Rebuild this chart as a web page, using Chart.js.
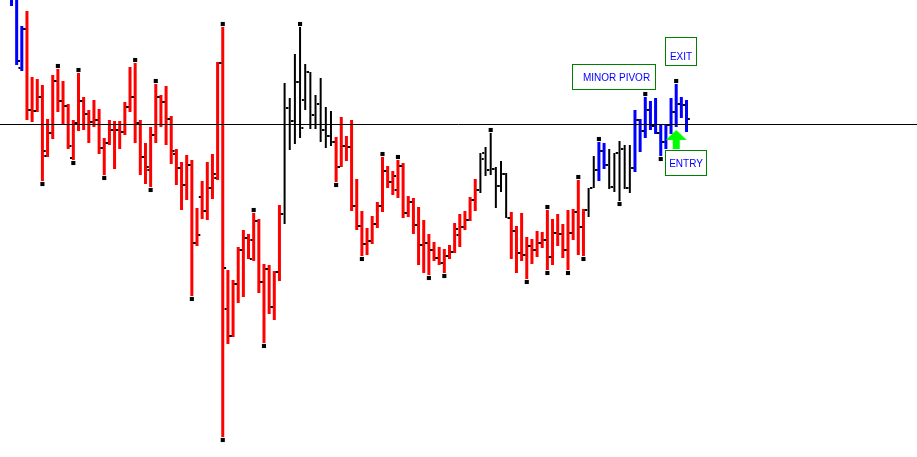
<!DOCTYPE html>
<html>
<head>
<meta charset="utf-8">
<title>Pivot bars</title>
<script src="https://cdn.jsdelivr.net/npm/chart.js@4.4.1/dist/chart.umd.min.js"></script>
<style>
    html, body { margin: 0; padding: 0; background: #fff; }
    canvas { display: block; }
</style>
</head>
<body>
<canvas id="grafico" width="917" height="457"></canvas>
<script>
// price in points, one entry per bar, oldest bar first
const openPrice = [
    477, 462, 389, 428, 347, 346, 360, 301, 324, 376,
    356, 351, 299, 334, 356, 343, 335, 337, 309, 314,
    327, 327, 325, 350, 360, 334, 300, 287, 322, 360,
    355, 338, 303, 289, 272, 292, 214, 260, 246, 269,
    279, 394, 148, 121, 173, 207, 219, 217, 236, 175,
    188, 150, 185, 243, 349, 336, 375, 357, 385, 342,
    353, 327, 321, 315, 290, 311, 310, 251, 231, 213,
    216, 233, 251, 286, 275, 267, 291, 244, 255, 232,
    212, 214, 207, 199, 194, 201, 205, 222, 230, 237,
    257, 267, 304, 287, 288, 271, 283, 239, 226, 204,
    202, 211, 207, 214, 217, 200, 224, 223, 207, 224,
    245, 230, 247, 269, 287, 306, 292, 270, 304, 308,
    269, 289, 337, 326, 347, 331, 324, 315, 332, 345,
    353, 352
];

const highPrice = [
    487, 472, 431, 446, 380, 378, 372, 338, 382, 388,
    376, 353, 337, 384, 360, 347, 357, 348, 319, 337,
    336, 336, 355, 390, 394, 337, 314, 330, 373, 362,
    371, 341, 308, 295, 302, 297, 249, 276, 295, 303,
    395, 430, 187, 177, 210, 227, 223, 244, 238, 193,
    192, 186, 252, 374, 359, 403, 430, 393, 385, 362,
    379, 350, 346, 320, 340, 321, 337, 278, 246, 229,
    241, 255, 300, 291, 286, 297, 294, 261, 259, 250,
    237, 223, 215, 210, 208, 212, 234, 243, 246, 260,
    278, 304, 310, 324, 290, 296, 284, 245, 231, 244,
    220, 218, 226, 225, 247, 238, 243, 233, 247, 248,
    277, 248, 269, 301, 315, 314, 308, 304, 316, 312,
    312, 347, 338, 360, 356, 359, 333, 332, 359, 373,
    360, 357
];

const lowPrice = [
    451, 392, 386, 337, 335, 345, 276, 300, 318, 345,
    333, 308, 297, 326, 327, 314, 330, 303, 282, 312,
    288, 308, 322, 345, 314, 282, 273, 270, 314, 330,
    312, 293, 272, 247, 257, 161, 211, 238, 237, 258,
    277, 20, 113, 120, 154, 160, 198, 196, 164, 114,
    143, 137, 176, 233, 307, 313, 319, 347, 328, 328,
    315, 309, 311, 275, 290, 296, 246, 227, 201, 202,
    213, 229, 245, 269, 262, 259, 239, 240, 223, 192,
    184, 182, 196, 192, 184, 198, 204, 210, 227, 236,
    246, 264, 281, 282, 249, 265, 239, 198, 184, 196,
    178, 193, 200, 209, 187, 192, 211, 199, 187, 217,
    202, 201, 240, 269, 276, 288, 268, 265, 256, 268,
    264, 285, 305, 319, 327, 323, 301, 308, 323, 330,
    339, 325
];

const closePrice = [
    462, 396, 428, 347, 346, 360, 306, 324, 376, 356,
    351, 311, 334, 356, 343, 335, 337, 309, 314, 327,
    327, 325, 350, 360, 334, 300, 290, 322, 360, 355,
    338, 306, 289, 272, 292, 214, 222, 246, 269, 283,
    394, 189, 121, 173, 207, 219, 198, 236, 175, 188,
    150, 185, 243, 349, 336, 375, 329, 385, 342, 353,
    327, 321, 315, 290, 311, 310, 251, 231, 213, 216,
    233, 251, 286, 275, 281, 291, 244, 255, 232, 212,
    214, 207, 199, 194, 201, 205, 228, 230, 237, 257,
    267, 298, 287, 288, 271, 283, 239, 226, 204, 202,
    211, 207, 214, 217, 200, 224, 223, 207, 224, 245,
    230, 247, 269, 287, 306, 292, 270, 304, 308, 269,
    289, 337, 326, 347, 331, 324, 315, 332, 345, 353,
    352, 338
];

// B = blue, R = red, K = black (state of the system on each bar)
const trend = [
    ..."B".repeat(3), ..."R".repeat(50), ..."K".repeat(10), ..."R".repeat(28),
    ..."K".repeat(6), ..."R".repeat(15), ..."K".repeat(2), ..."B".repeat(2),
    ..."K".repeat(5), ..."B".repeat(11)
];

const pivotHighBars = [9, 13, 24, 28, 41, 47, 56, 72, 75, 93, 104, 110, 114, 123, 129];
const pivotLowBars = [6, 12, 18, 27, 35, 41, 49, 63, 68, 81, 84, 100, 104, 108, 111, 118, 126];

const referenceLevel = 332.5;
const entryBar = 129;

const notes = [
    { text: "MINOR PIVOR", x0: 108.78, top: 393, w: 83, h: 25, dx: 3, base: 17 },
    { text: "EXIT", x0: 126.83, top: 420, w: 31, h: 28, dx: 0.5, base: 23 },
    { text: "ENTRY", x0: 126.83, top: 307, w: 41, h: 25, dx: 0.5, base: 17 }
];

const colors = { R: "#ff0000", K: "#000000", B: "#0000ff" };
const widths = { R: 3, K: 2, B: 3 };

function barsOf(code) {
    return highPrice
        .map((h, i) => trend[i] === code ? { x: i, y: [lowPrice[i], h] } : null)
        .filter(Boolean);
}

const tickGap = 0.45;
const ticks = [];
highPrice.forEach((h, i) => {
    ticks.push({ x: i - tickGap, y: openPrice[i] });
    ticks.push({ x: i + tickGap, y: closePrice[i] });
});

const pivots = [
    ...pivotHighBars.map(i => ({ x: i, y: highPrice[i] + 3 })),
    ...pivotLowBars.map(i => ({ x: i, y: lowPrice[i] - 3 }))
];

// green up arrow under the entry bar
const arrow = document.createElement("canvas");
arrow.width = 21;
arrow.height = 19;
const a = arrow.getContext("2d");
a.fillStyle = "#00ff00";
a.beginPath();
a.moveTo(10.5, 0);
a.lineTo(21, 10);
a.lineTo(14, 10);
a.lineTo(14, 19);
a.lineTo(7, 19);
a.lineTo(7, 10);
a.lineTo(0, 10);
a.closePath();
a.fill();

const notesPlugin = {
    id: "notes",
    afterDatasetsDraw(chart) {
        const { ctx, scales } = chart;
        ctx.save();
        ctx.font = '10px "Liberation Sans", Arial, sans-serif';
        ctx.textAlign = "center";
        ctx.textBaseline = "alphabetic";
        notes.forEach(n => {
            const left = Math.round(scales.x.getPixelForValue(n.x0));
            const top = Math.round(scales.y.getPixelForValue(n.top));
            ctx.fillStyle = "#ffffff";
            ctx.fillRect(left, top, n.w, n.h);
            ctx.strokeStyle = "#008000";
            ctx.lineWidth = 1;
            ctx.strokeRect(left + 0.5, top + 0.5, n.w, n.h);
            ctx.fillStyle = "#0000ff";
            ctx.fillText(n.text, left + n.w / 2 + n.dx, top + n.base);
        });
        ctx.restore();
    }
};

const barSets = ["R", "K", "B"].map(code => ({
    type: "bar",
    data: barsOf(code),
    backgroundColor: colors[code],
    borderWidth: 0,
    barThickness: widths[code],
    grouped: false,
    inflateAmount: 0,
    order: 3
}));

new Chart(document.getElementById("grafico"), {

    type: "bar",

    data: {
        datasets: [
            {
                type: "line",
                data: [{ x: -5, y: referenceLevel }, { x: 200, y: referenceLevel }],
                borderColor: "#000000",
                borderWidth: 1,
                pointRadius: 0,
                pointHoverRadius: 0,
                order: 0
            },
            {
                type: "scatter",
                data: [{ x: entryBar, y: lowPrice[entryBar] - 12.5 }],
                pointStyle: arrow,
                pointRadius: 3,
                order: 0
            },
            {
                type: "scatter",
                data: pivots,
                pointStyle: "rect",
                pointRadius: 2.9,
                pointBorderWidth: 0,
                backgroundColor: "#000000",
                pointBackgroundColor: "#000000",
                order: 1
            },
            {
                type: "scatter",
                data: ticks,
                pointStyle: "rect",
                pointRadius: 1.42,
                pointBorderWidth: 0,
                backgroundColor: "#000000",
                pointBackgroundColor: "#000000",
                order: 2
            },
            ...barSets
        ]
    },

    options: {
        responsive: false,
        animation: false,
        devicePixelRatio: 1,
        events: [],
        layout: { padding: 0, autoPadding: false },
        plugins: {
            legend: { display: false },
            tooltip: { enabled: false }
        },
        scales: {
            x: { type: "linear", min: -2.232, max: 175.733, display: false, offset: false, bounds: "data" },
            y: { type: "linear", min: 0, max: 457, display: false, bounds: "data" }
        }
    },

    plugins: [notesPlugin]
});
</script>
</body>
</html>
